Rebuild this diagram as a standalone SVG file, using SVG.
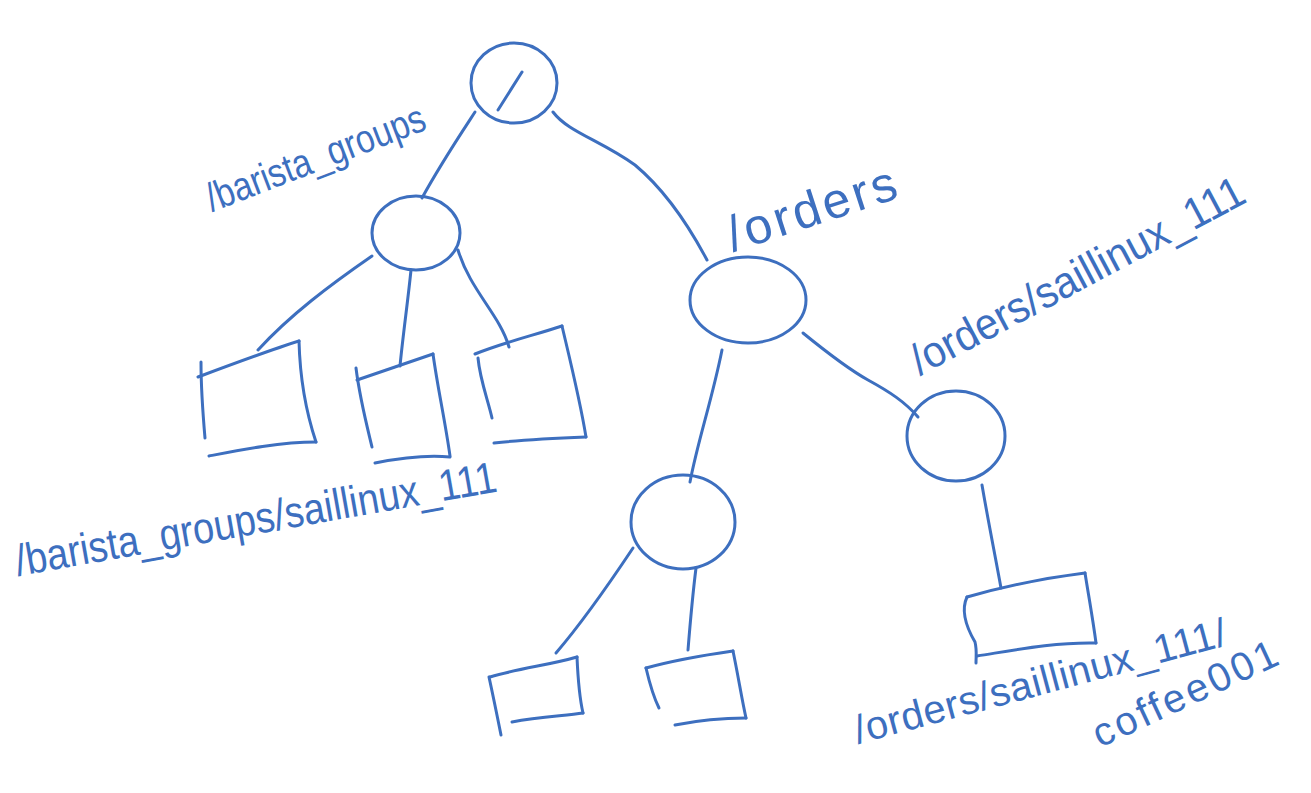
<svg xmlns="http://www.w3.org/2000/svg" width="1311" height="793" viewBox="0 0 1311 793">
<style>
.s{fill:none;stroke:#3d6fbf;stroke-width:3;stroke-linecap:round;stroke-linejoin:round}
.t{fill:#3d6fbf;font-family:"Liberation Sans","DejaVu Sans",sans-serif;font-weight:normal}
</style>
<rect width="1311" height="793" fill="#ffffff"/>
<g id="connectors" class="s">
<path d="M475,112 C458,138 440,165 422,198"/>
<path d="M553,112 C568,132 600,140 635,165 C665,190 690,228 707,260"/>
<path d="M372,256 C330,285 290,315 258,350"/>
<path d="M411,270 C408,300 403,335 400,366"/>
<path d="M458,250 C470,290 500,315 509,347"/>
<path d="M722,350 C712,400 698,440 690,482"/>
<path d="M803,333 C830,355 850,370 868,380 C890,392 905,402 918,417"/>
<path d="M633,548 C605,590 580,625 556,653"/>
<path d="M696,568 C692,600 690,625 688,650"/>
<path d="M982,485 C988,520 995,555 1001,588"/>
</g>
<g id="root" class="s">
<ellipse cx="514" cy="83" rx="43" ry="40"/>
<path d="M498,110 L522,72"/>
</g>
<g id="barista_groups" class="s">
<ellipse cx="416" cy="233" rx="44" ry="37"/>
</g>
<g id="barista_box1" class="s">
<path d="M198,377 C230,365 270,350 299,341"/>
<path d="M299,341 C300,380 306,412 316,442"/>
<path d="M209,456 C240,450 280,442 316,442"/>
<path d="M201,362 C201,390 203,415 205,438"/>
</g>
<g id="barista_box2" class="s">
<path d="M357,380 C380,372 410,362 433,354"/>
<path d="M433,354 C438,390 445,420 450,456"/>
<path d="M375,463 C400,458 430,455 450,457"/>
<path d="M356,368 C360,400 368,430 372,447"/>
</g>
<g id="barista_box3" class="s">
<path d="M475,354 C505,342 535,335 562,326"/>
<path d="M562,326 C570,360 580,400 586,437"/>
<path d="M494,443 C520,440 560,438 586,437"/>
<path d="M478,358 C480,380 488,400 492,418"/>
</g>
<g id="orders" class="s">
<ellipse cx="748" cy="300" rx="58" ry="43"/>
</g>
<g id="orders_saillinux" class="s">
<ellipse cx="956" cy="436" rx="49" ry="45"/>
</g>
<g id="orders_child" class="s">
<ellipse cx="683" cy="522" rx="52" ry="47"/>
</g>
<g id="bottom_box1" class="s">
<path d="M490,677 C520,668 550,665 577,657"/>
<path d="M577,657 C578,680 580,700 583,713"/>
<path d="M512,722 C540,716 565,716 583,713"/>
<path d="M489,677 C494,700 498,720 501,735"/>
</g>
<g id="bottom_box2" class="s">
<path d="M646,668 C675,660 705,655 733,651"/>
<path d="M733,651 C738,675 742,700 746,718"/>
<path d="M675,725 C700,720 725,718 746,718"/>
<path d="M646,668 C650,685 655,700 659,708"/>
</g>
<g id="coffee_box" class="s">
<path d="M967,597 C1005,586 1045,578 1085,573"/>
<path d="M1085,573 C1089,598 1093,620 1096,643"/>
<path d="M977,656 C1015,650 1055,642 1096,643"/>
<path d="M967,597 C960,612 968,630 975,642 C977,650 976,656 976,663"/>
</g>
<g id="labels" class="t">
<text x="212" y="212" font-size="40" textLength="232" lengthAdjust="spacingAndGlyphs" transform="rotate(-21 212 212)">/barista_groups</text>
<text x="733" y="252" font-size="50" textLength="176" lengthAdjust="spacing" transform="rotate(-18 733 252)">/orders</text>
<text x="920" y="376" font-size="44" textLength="372" lengthAdjust="spacingAndGlyphs" transform="rotate(-28 920 376)">/orders/saillinux_111</text>
<text x="18" y="576" font-size="44" textLength="488" lengthAdjust="spacingAndGlyphs" transform="rotate(-10 18 576)">/barista_groups/saillinux_111</text>
<text x="858" y="744" font-size="40" textLength="384" lengthAdjust="spacing" transform="rotate(-15 858 744)">/orders/saillinux_111/</text>
<text x="1100" y="748" font-size="40" textLength="200" lengthAdjust="spacing" transform="rotate(-25 1100 748)">coffee001</text>
</g>
</svg>
